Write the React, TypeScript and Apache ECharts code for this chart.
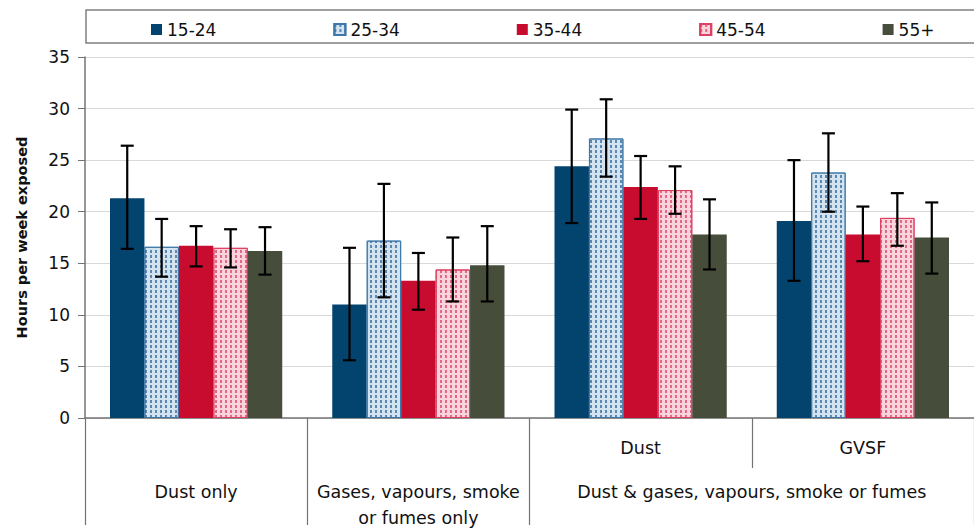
import React, { useEffect, useRef } from "react";
import * as echarts from "echarts";

const categories = ["Dust only", "Gases, vapours, smoke or fumes only", "Dust", "GVSF"];
const lowerRowLabels = ["Dust only", "Gases, vapours, smoke\nor fumes only", "", ""];
const spanLabels = ["", "Dust & gases, vapours, smoke or fumes"];
const ageGroups = ["15-24", "25-34", "35-44", "45-54", "55+"];

const values15to24 = [21.3, 11.0, 24.4, 19.1];
const values25to34 = [16.6, 17.2, 27.1, 23.8];
const values35to44 = [16.7, 13.3, 22.4, 17.8];
const values45to54 = [16.5, 14.4, 22.1, 19.4];
const values55plus = [16.2, 14.8, 17.8, 17.5];

const lower15to24 = [16.4, 5.6, 18.9, 13.3];
const lower25to34 = [13.7, 11.7, 23.4, 20.0];
const lower35to44 = [14.7, 10.5, 19.3, 15.2];
const lower45to54 = [14.6, 11.3, 19.8, 16.7];
const lower55plus = [13.9, 11.3, 14.4, 14.0];

const upper15to24 = [26.4, 16.5, 29.9, 25.0];
const upper25to34 = [19.3, 22.7, 30.9, 27.6];
const upper35to44 = [18.6, 16.0, 25.4, 20.5];
const upper45to54 = [18.3, 17.5, 24.4, 21.8];
const upper55plus = [18.5, 18.6, 21.2, 20.9];

const yTicks = { min: 0, max: 35, interval: 5 };

const FONT = "DejaVu Sans";
const BAR_FRACTION = 0.775;

export default function App() {
  const ref = useRef<HTMLDivElement>(null);

  useEffect(() => {
    if (!ref.current) return;
    const chart = echarts.init(ref.current, undefined, { renderer: "svg" });

    const values = [values15to24, values25to34, values35to44, values45to54, values55plus];
    const lows = [lower15to24, lower25to34, lower35to44, lower45to54, lower55plus];
    const highs = [upper15to24, upper25to34, upper35to44, upper45to54, upper55plus];

    const styles: any[] = [
      { color: "#03446e" },
      {
        color: "#d3e4f0",
        borderColor: "#3f78a8",
        borderWidth: 1,
        decal: {
          symbol: "rect",
          symbolSize: 1,
          color: "rgba(40,95,150,0.7)",
          dashArrayX: [1.2, 3],
          dashArrayY: [3, 1.5],
          rotation: 0,
        },
      },
      { color: "#c70c30" },
      {
        color: "#f9d4dc",
        borderColor: "#de3f62",
        borderWidth: 1,
        decal: {
          symbol: "rect",
          symbolSize: 1,
          color: "rgba(215,60,95,0.7)",
          dashArrayX: [1.2, 3],
          dashArrayY: [3, 1.5],
          rotation: 0,
        },
      },
      { color: "#474d3b" },
    ];

    const barSeries = ageGroups.map((name, i) => ({
      name,
      type: "bar",
      xAxisIndex: 0,
      yAxisIndex: 0,
      data: values[i],
      barGap: "0%",
      barCategoryGap: "22.5%",
      itemStyle: styles[i],
      z: 2,
    }));

    const errData: number[][] = [];
    ageGroups.forEach((_, a) => {
      categories.forEach((_, c) => {
        errData.push([c, a, lows[a][c], highs[a][c]]);
      });
    });

    const errorSeries = {
      type: "custom",
      name: "errors",
      xAxisIndex: 0,
      yAxisIndex: 0,
      z: 10,
      silent: true,
      encode: { x: 0, y: [2, 3] },
      data: errData,
      renderItem: (params: any, api: any) => {
        const c = api.value(0);
        const a = api.value(1);
        const band = api.size([1, 0])[0];
        const barW = (band * BAR_FRACTION) / ageGroups.length;
        const cx = api.coord([c, 0])[0] + (a - (ageGroups.length - 1) / 2) * barW;
        const yLo = api.coord([c, api.value(2)])[1];
        const yHi = api.coord([c, api.value(3)])[1];
        const cap = 6.5;
        const st = { stroke: "#000", lineWidth: 2.2 };
        return {
          type: "group",
          children: [
            { type: "line", shape: { x1: cx, y1: yLo, x2: cx, y2: yHi }, style: st },
            { type: "line", shape: { x1: cx - cap, y1: yHi, x2: cx + cap, y2: yHi }, style: st },
            { type: "line", shape: { x1: cx - cap, y1: yLo, x2: cx + cap, y2: yLo }, style: st },
          ],
        };
      },
    };

    chart.setOption({
      animation: false,
      textStyle: { fontFamily: FONT },
      graphic: [
        {
          type: "rect",
          shape: { x: 86, y: 10, width: 900, height: 33 },
          style: { fill: "none", stroke: "#808080", lineWidth: 1.5 },
          z: 0,
        },
      ],
      legend: {
        data: ageGroups,
        left: 146,
        top: 16,
        icon: "rect",
        itemWidth: 11,
        itemHeight: 11,
        itemGap: 117,
        textStyle: { fontSize: 17, fontFamily: FONT, color: "#111" },
      },
      grid: { left: 85, top: 57, width: 900, height: 368 },
      xAxis: [
        {
          type: "category",
          data: categories,
          position: "bottom",
          axisLine: { show: true, lineStyle: { color: "#737373", width: 1.5 } },
          axisTick: { show: true, length: 50, lineStyle: { color: "#737373", width: 1.2 } },
          axisLabel: {
            margin: 21,
            fontSize: 17.5,
            color: "#111",
            fontFamily: FONT,
            formatter: (v: string, i: number) => (i >= 2 ? v : ""),
          },
          splitLine: { show: false },
        },
        {
          type: "category",
          data: lowerRowLabels,
          position: "bottom",
          offset: 50,
          axisLine: { show: false },
          axisTick: {
            show: true,
            length: 57,
            interval: (i: number) => i <= 2,
            lineStyle: { color: "#737373", width: 1.2 },
          },
          axisLabel: {
            interval: 0,
            margin: 11,
            fontSize: 17.5,
            lineHeight: 26,
            color: "#111",
            fontFamily: FONT,
          },
        },
        {
          type: "category",
          data: spanLabels,
          position: "bottom",
          offset: 50,
          axisLine: { show: false },
          axisTick: { show: false },
          axisLabel: {
            interval: 0,
            margin: 11,
            fontSize: 17.5,
            lineHeight: 26,
            color: "#111",
            fontFamily: FONT,
          },
        },
      ],
      yAxis: {
        type: "value",
        min: yTicks.min,
        max: yTicks.max,
        interval: yTicks.interval,
        name: "Hours per week exposed",
        nameLocation: "middle",
        nameGap: 56,
        nameTextStyle: { fontSize: 14.5, fontWeight: "bold", color: "#111", fontFamily: FONT },
        axisLine: { show: true, lineStyle: { color: "#737373", width: 1.5 } },
        axisTick: { show: true, length: 7, lineStyle: { color: "#737373" } },
        axisLabel: { fontSize: 17, color: "#111", margin: 15, fontFamily: FONT },
        splitLine: { show: true, lineStyle: { color: "#d9d9d9", width: 1.2 } },
      },
      series: [...barSeries, errorSeries],
    });

    return () => chart.dispose();
  }, []);

  return <div ref={ref} style={{ width: 974, height: 531, position: "absolute", left: 0, top: 0 }} />;
}
